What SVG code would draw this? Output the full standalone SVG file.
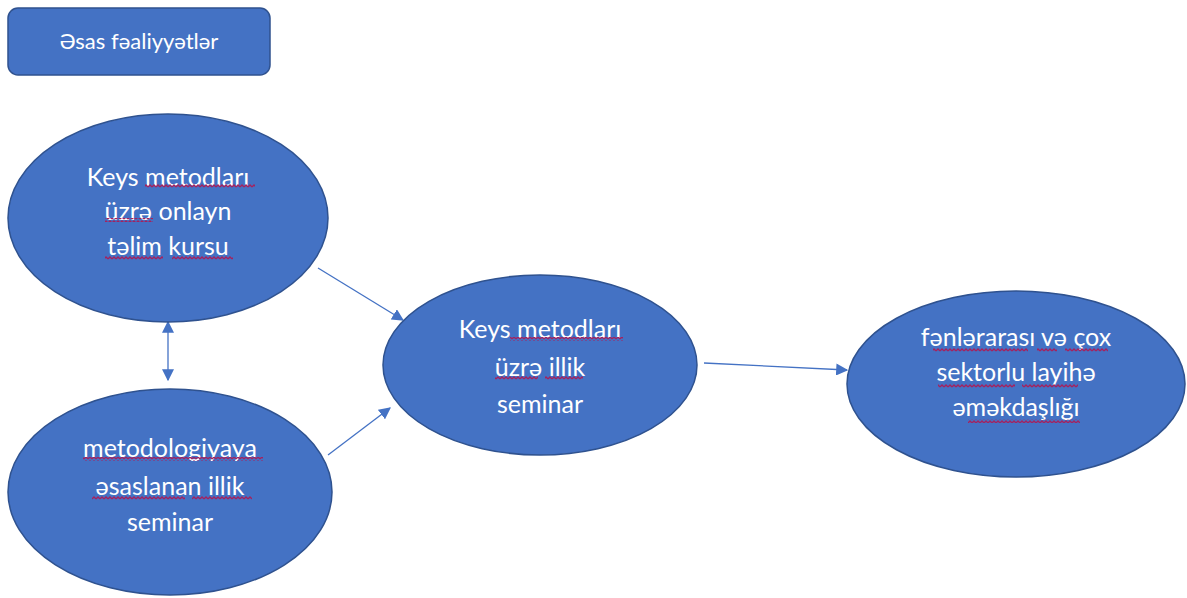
<svg xmlns="http://www.w3.org/2000/svg" width="1187" height="598" viewBox="0 0 1187 598">
<style>
.node{fill:#4472C4;stroke:#2F528F;stroke-width:1.5}
.t{fill:#ffffff;font-family:Lato,"Open Sans","Liberation Sans",sans-serif;font-size:25px;text-anchor:middle;dominant-baseline:central}
.t2{fill:#ffffff;font-family:Lato,"Open Sans","Liberation Sans",sans-serif;font-size:22px;text-anchor:middle;dominant-baseline:central}
.c{stroke:#4472C4;stroke-width:1.3;fill:none}
.sq{fill:url(#wave)}
</style>
<defs>
<marker id="ahL" viewBox="0 0 10 10" refX="9" refY="5" markerWidth="12" markerHeight="12" markerUnits="userSpaceOnUse" orient="auto-start-reverse"><path d="M0,0 L10,5 L0,10 z" fill="#4472C4"/></marker>
<pattern id="wave" patternUnits="userSpaceOnUse" width="4" height="4"><path d="M0,3 L2,1 L4,3" fill="none" stroke="#A3225F" stroke-width="1.3"/></pattern>
</defs>
<g id="connectors">
<line class="c" x1="318" y1="268" x2="403" y2="320" marker-end="url(#ahL)"/>
<line class="c" x1="328" y1="455" x2="390" y2="408" marker-end="url(#ahL)"/>
<line class="c" x1="704" y1="363" x2="847" y2="370" marker-end="url(#ahL)"/>
<line class="c" x1="168" y1="322" x2="168" y2="380" marker-start="url(#ahL)" marker-end="url(#ahL)"/>
</g>
<g id="title">
<rect class="node" x="8" y="8" width="262" height="67" rx="10"/>
<text class="t2" x="139" y="40">Əsas fəaliyyətlər</text>
</g>
<g id="n1">
<ellipse class="node" cx="168" cy="218" rx="160" ry="104"/>
<text class="t" x="168" y="176">Keys metodları</text>
<text class="t" x="168" y="210">üzrə onlayn</text>
<text class="t" x="168" y="245">təlim kursu</text>
<rect class="sq" x="145" y="184" width="110" height="4"/>
<rect class="sq" x="105" y="218" width="48" height="4"/>
<rect class="sq" x="105" y="256" width="58" height="4"/>
<rect class="sq" x="172" y="256" width="61" height="4"/>
</g>
<g id="n2">
<ellipse class="node" cx="170" cy="492" rx="162" ry="103"/>
<text class="t" x="170" y="447">metodologiyaya</text>
<text class="t" x="170" y="485">əsaslanan illik</text>
<text class="t" x="170" y="521">seminar</text>
<rect class="sq" x="83" y="457" width="180" height="4"/>
<rect class="sq" x="92" y="496" width="93" height="4"/>
<rect class="sq" x="192" y="496" width="60" height="4"/>
</g>
<g id="n3">
<ellipse class="node" cx="540" cy="365" rx="157" ry="90"/>
<text class="t" x="540" y="328">Keys metodları</text>
<text class="t" x="540" y="366">üzrə illik</text>
<text class="t" x="540" y="403">seminar</text>
<rect class="sq" x="510" y="337" width="113" height="4"/>
<rect class="sq" x="495" y="376" width="43" height="4"/>
<rect class="sq" x="545" y="376" width="38" height="4"/>
</g>
<g id="n4">
<ellipse class="node" cx="1016" cy="384" rx="169" ry="93"/>
<text class="t" x="1016" y="336">fənlərarası və çox</text>
<text class="t" x="1016" y="371">sektorlu layihə</text>
<text class="t" x="1016" y="406">əməkdaşlığı</text>
<rect class="sq" x="933" y="348" width="95" height="4"/>
<rect class="sq" x="1037" y="348" width="20" height="4"/>
<rect class="sq" x="1065" y="348" width="43" height="4"/>
<rect class="sq" x="938" y="384" width="77" height="4"/>
<rect class="sq" x="1022" y="384" width="56" height="4"/>
<rect class="sq" x="968" y="419" width="112" height="4"/>
</g>
</svg>
